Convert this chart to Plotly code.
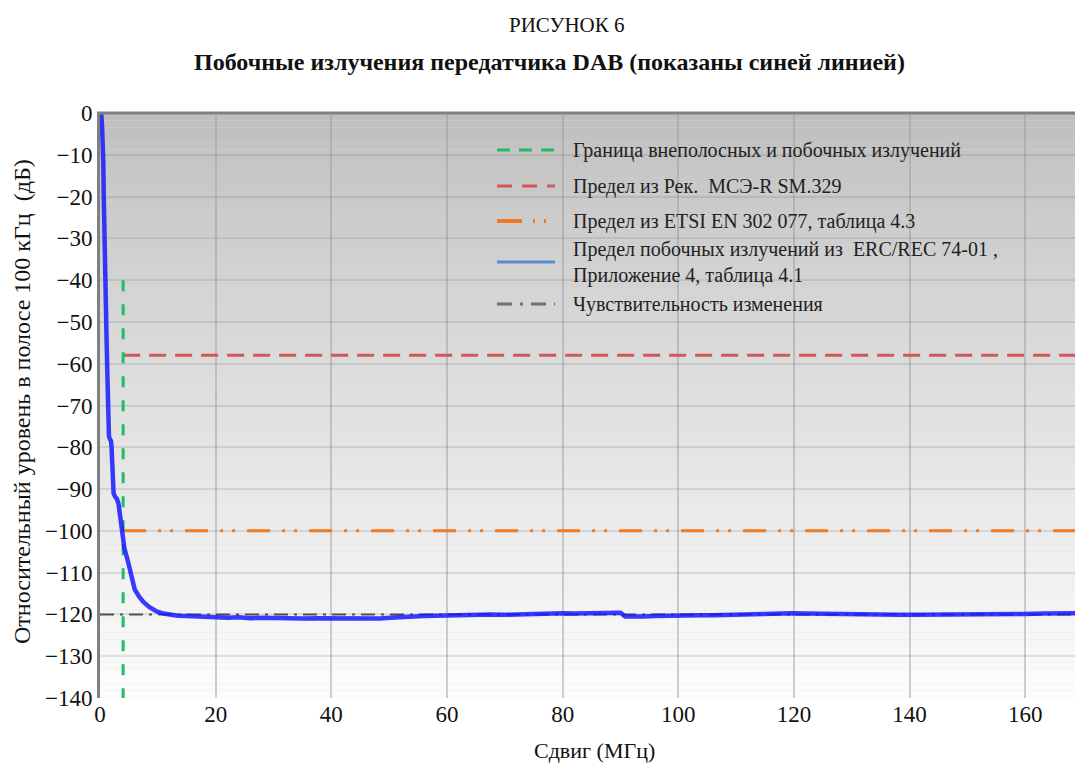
import plotly.graph_objects as go

# ---------------- data ----------------
offset_mhz = [0.0, 0.2, 0.35, 0.5, 0.57, 0.65, 0.75, 0.87, 1.0, 1.15, 1.3, 1.4, 1.45, 1.55, 1.7, 1.9,
              2.0, 2.1, 2.2, 2.35, 2.6, 2.9, 3.2, 3.5, 3.7, 4.2, 4.9, 5.5, 6.0, 6.8, 7.5, 8.5,
              9.8, 11.0, 12.1, 13.5, 15.0, 16.5, 18.5, 20.0, 22.0, 24.0, 26.0, 28.0, 30.0, 32.9,
              35.0, 38.0, 41.0, 44.0, 46.0, 48.4, 50.2, 52.0, 54.0, 56.0, 58.0, 60.0, 62.0, 64.0,
              67.5, 70.0, 72.0, 74.0, 76.0, 78.0, 80.0, 82.0, 84.0, 86.5, 88.8, 90.0, 90.8, 92.0,
              94.0, 96.0, 98.0, 100.0, 103.8, 106.0, 108.0, 110.0, 112.0, 114.0, 117.6, 119.6,
              122.0, 125.0, 128.0, 130.0, 132.6, 135.0, 138.0, 141.0, 144.0, 147.0, 150.0, 153.0,
              156.0, 160.0, 163.0, 166.0, 168.6]
level_db = [0.0, 0.0, -3.0, -8.0, -11.6, -20.0, -30.0, -36.0, -45.0, -55.0, -64.0, -72.0, -75.4, -77.4, -78.0, -78.5,
            -80.0, -85.0, -90.0, -91.0, -91.8, -92.3, -93.5, -97.0, -99.8, -104.0, -107.7, -111.0, -114.0, -115.8, -117.0, -118.2,
            -119.3, -119.8, -120.1, -120.3, -120.4, -120.5, -120.5, -120.6, -120.8, -120.7, -120.9, -120.8, -120.9, -120.9,
            -121.0, -120.9, -121.0, -120.9, -121.1, -121.0, -120.8, -120.6, -120.5, -120.4, -120.3, -120.2, -120.3, -120.2,
            -120.0, -120.1, -120.0, -119.9, -120.0, -119.8, -119.7, -119.8, -119.7, -119.7, -119.5, -119.6, -120.5, -120.6,
            -120.5, -120.4, -120.3, -120.2, -120.2, -120.2, -120.1, -120.0, -120.0, -119.9, -119.7, -119.7,
            -119.8, -119.9, -119.9, -120.0, -119.9, -120.0, -120.1, -120.1, -120.1, -120.0, -119.9, -119.9,
            -119.9, -119.9, -119.8, -119.8, -119.7]

boundary_mhz = 4.0            # граница внеполосных и побочных излучений
boundary_top_db = -40.0
sm329_limit_db = -58.0
etsi_limit_db = -100.0
sensitivity_db = -120.0

x_ticks = [0, 20, 40, 60, 80, 100, 120, 140, 160]
y_ticks = [0, -10, -20, -30, -40, -50, -60, -70, -80, -90, -100, -110, -120, -130, -140]

X_MAX = 168.6
Y_MIN = -140.0

legend_labels = [
    "Граница внеполосных и побочных излучений",
    "Предел из Рек.  МСЭ-R SM.329",
    "Предел из ETSI EN 302 077, таблица 4.3",
    "Предел побочных излучений из  ERC/REC 74-01 ,<br>Приложение 4, таблица 4.1",
    "Чувствительность изменения",
]

# ---------------- layout geometry ----------------
W, H = 1075, 766
L, R, T, B = 100, 0, 113, 68
PW, PH = W - L - R, H - T - B


def px(xp):
    return (xp - L) / PW


def py(yp):
    return (H - B - yp) / PH


FONT = "Liberation Serif"

fig = go.Figure()

# sensitivity line
fig.add_trace(go.Scatter(x=[0, X_MAX], y=[sensitivity_db, sensitivity_db], mode="lines",
                         line=dict(color="#505050", width=2, dash="14px,6px,3px,6px"),
                         showlegend=False, hoverinfo="skip"))
# SM.329 limit
fig.add_trace(go.Scatter(x=[boundary_mhz, X_MAX], y=[sm329_limit_db, sm329_limit_db], mode="lines",
                         line=dict(color="#d05858", width=3, dash="17px,9px"),
                         showlegend=False, hoverinfo="skip"))
# ETSI limit
fig.add_trace(go.Scatter(x=[boundary_mhz, X_MAX], y=[etsi_limit_db, etsi_limit_db], mode="lines",
                         line=dict(color="#f07a22", width=3, dash="23px,12px,3px,9px,3px,12px"),
                         showlegend=False, hoverinfo="skip"))
# boundary
fig.add_trace(go.Scatter(x=[boundary_mhz, boundary_mhz], y=[boundary_top_db, Y_MIN], mode="lines",
                         line=dict(color="#22bb66", width=3, dash="11px,13px"),
                         showlegend=False, hoverinfo="skip"))
# measured spectrum
fig.add_trace(go.Scatter(x=offset_mhz, y=level_db, mode="lines",
                         line=dict(color="rgba(25,25,255,0.85)", width=4.5),
                         showlegend=False, hoverinfo="skip"))

shapes = []
# gradient background
N = 80
for i in range(N):
    f = i / (N - 1)
    g = int(round(191 + (252 - 191) * (f ** 0.9)))
    shapes.append(dict(type="rect", xref="paper", yref="paper",
                       x0=0, x1=1, y0=1 - (i + 1) / N, y1=1 - i / N,
                       fillcolor=f"rgb({g},{g},{g})", line=dict(width=0), layer="below"))
# top border
shapes.append(dict(type="line", xref="paper", yref="paper", x0=px(97), x1=1, y0=1, y1=1,
                   line=dict(color="#808080", width=3)))

# manual legend
leg_x0, leg_x1 = px(497), px(555)
leg_rows = [150, 186, 221, 262, 304]
leg_styles = [
    dict(color="#22bb66", width=3, dash="13px,9px"),
    dict(color="#d05858", width=3, dash="15px,10px"),
    dict(color="#f07a22", width=4, dash="25px,11px,2px,9px,2px,30px"),
    dict(color="#5a8ad6", width=3),
    dict(color="#707070", width=3, dash="15px,8px,3px,8px"),
]
for yrow, st in zip(leg_rows, leg_styles):
    shapes.append(dict(type="line", xref="paper", yref="paper", x0=leg_x0, x1=leg_x1,
                       y0=py(yrow), y1=py(yrow), line=st))

annotations = []
for yrow, lab in zip(leg_rows, legend_labels):
    annotations.append(dict(text=lab, xref="paper", yref="paper", x=px(571), y=py(yrow),
                            xanchor="left", yanchor="middle", showarrow=False, align="left",
                            font=dict(family=FONT, size=20, color="#222222")))

# titles
annotations.append(dict(text="РИСУНОК 6", xref="paper", yref="paper", x=px(567), y=py(25),
                        xanchor="center", yanchor="middle", showarrow=False,
                        font=dict(family=FONT, size=21, color="#111111")))
annotations.append(dict(text="<b>Побочные излучения передатчика DAB (показаны синей линией)</b>",
                        xref="paper", yref="paper", x=px(549), y=py(62), xanchor="center",
                        yanchor="middle", showarrow=False,
                        font=dict(family=FONT, size=24, color="#111111")))
annotations.append(dict(text="Сдвиг (МГц)", xref="paper", yref="paper", x=px(594), y=py(750),
                        xanchor="center", yanchor="middle", showarrow=False,
                        font=dict(family=FONT, size=22, color="#111111")))
annotations.append(dict(text="Относительный уровень в полосе 100 кГц  (дБ)", xref="paper", yref="paper",
                        x=px(22), y=py(402), xanchor="center", yanchor="middle", textangle=-90,
                        showarrow=False, font=dict(family=FONT, size=24, color="#111111")))

fig.update_layout(
    width=W, height=H,
    margin=dict(l=L, r=R, t=T, b=B),
    paper_bgcolor="white", plot_bgcolor="rgb(220,220,220)",
    shapes=shapes, annotations=annotations,
    showlegend=False,
    xaxis=dict(range=[0, X_MAX], tickvals=x_ticks, ticktext=[str(v) for v in x_ticks],
               showgrid=True, gridcolor="rgba(150,150,150,0.45)", gridwidth=2,
               zeroline=False, showline=False, ticks="", ticklen=0, automargin=False,
               tickfont=dict(family=FONT, size=23, color="#111111")),
    yaxis=dict(range=[Y_MIN, 0], tickvals=y_ticks,
               showgrid=True, gridcolor="rgba(120,120,120,0.2)", gridwidth=2,
               zeroline=False, showline=True, linecolor="#808080", linewidth=3,
               ticks="", ticklen=0, automargin=False,
               tickfont=dict(family=FONT, size=23, color="#111111")),
)

fig.write_html(
    "out.html",
    config={"displayModeBar": False},
    post_script="document.body.style.margin='0';document.body.style.overflow='hidden';"
                "document.documentElement.style.overflow='hidden';",
)
